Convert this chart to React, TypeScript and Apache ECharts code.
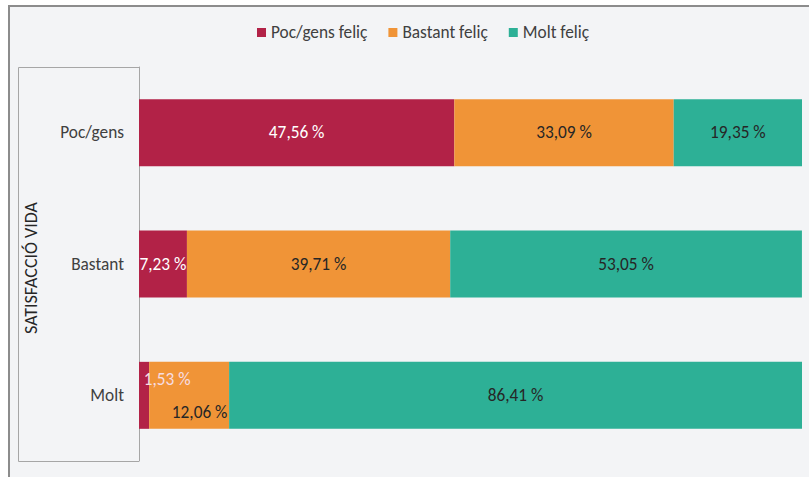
import React, { useEffect, useRef } from "react";
import * as echarts from "echarts";

const categories = ["Poc/gens", "Bastant", "Molt"];
const seriesNames = ["Poc/gens feliç", "Bastant feliç", "Molt feliç"];
const pocGensFelic = [47.56, 7.23, 1.53];
const bastantFelic = [33.09, 39.71, 12.06];
const moltFelic = [19.35, 53.05, 86.41];
const axisTitle = "SATISFACCIÓ VIDA";

const colors = ["#B22247", "#F09437", "#2DB096"];
const labelColors = ["#ffffff", "#262626", "#262626"];
const FONT = "Carlito, Calibri, 'Liberation Sans Narrow', 'Open Sans', sans-serif";
const FS = 17.3;

const fmt = (v: number) => v.toFixed(2).replace(".", ",") + " %";

export default function App() {
  const ref = useRef<HTMLDivElement>(null);
  useEffect(() => {
    if (!ref.current) return;
    const chart = echarts.init(ref.current, null, { renderer: "svg" });
    const allData = [pocGensFelic, bastantFelic, moltFelic];
    const series = allData.map((arr, si) => ({
      type: "bar",
      name: seriesNames[si],
      stack: "total",
      barWidth: "51%",
      itemStyle: { color: colors[si] },
      label: {
        show: true,
        position: "inside",
        color: labelColors[si],
        fontFamily: FONT,
        fontSize: FS,
        formatter: (p: any) => fmt(p.value),
      },
      data: arr.map((v, ci) => {
        if (si === 0 && ci === 2) {
          return { value: v, label: { offset: [23, -16], color: "#f6dde3" } };
        }
        if (si === 1 && ci === 2) {
          return { value: v, label: { offset: [10.5, 17.5] } };
        }
        return v;
      }),
    }));
    chart.setOption({
      animation: false,
      backgroundColor: "#ffffff",
      textStyle: { fontFamily: FONT },
      graphic: [
        {
          type: "rect",
          z: -10,
          shape: { x: 9, y: 6, width: 820, height: 490 },
          style: { fill: "#f3f4f6", stroke: "#8c8c8c", lineWidth: 2 },
        },
        {
          type: "polyline",
          z: -5,
          shape: { points: [[139, 67.5], [18.5, 67.5], [18.5, 461.5], [139, 461.5]] },
          style: { fill: "none", stroke: "#a6a6a6", lineWidth: 1 },
        },
        {
          type: "text",
          x: 30.5,
          y: 268,
          rotation: Math.PI / 2,
          style: {
            text: axisTitle,
            fill: "#262626",
            fontSize: 18,
            fontFamily: FONT,
            align: "center",
            verticalAlign: "middle",
          },
        },
      ],
      legend: {
        data: seriesNames,
        top: 19,
        left: 252,
        itemWidth: 9,
        itemHeight: 9,
        itemGap: 21,
        icon: "rect",
        textStyle: { color: "#404040", fontSize: FS, fontFamily: FONT },
      },
      grid: { left: 139, right: 7, top: 67, bottom: 16, containLabel: false },
      xAxis: { type: "value", min: 0, max: 100, show: false },
      yAxis: {
        type: "category",
        data: categories,
        inverse: true,
        axisTick: { show: false },
        axisLine: { show: true, lineStyle: { color: "#a6a6a6", width: 1 } },
        axisLabel: { color: "#404040", fontSize: FS, margin: 15, fontFamily: FONT },
      },
      series,
    });
    return () => chart.dispose();
  }, []);
  return (
    <div
      ref={ref}
      style={{ position: "fixed", left: 0, top: 0, width: 809, height: 477 }}
    />
  );
}
